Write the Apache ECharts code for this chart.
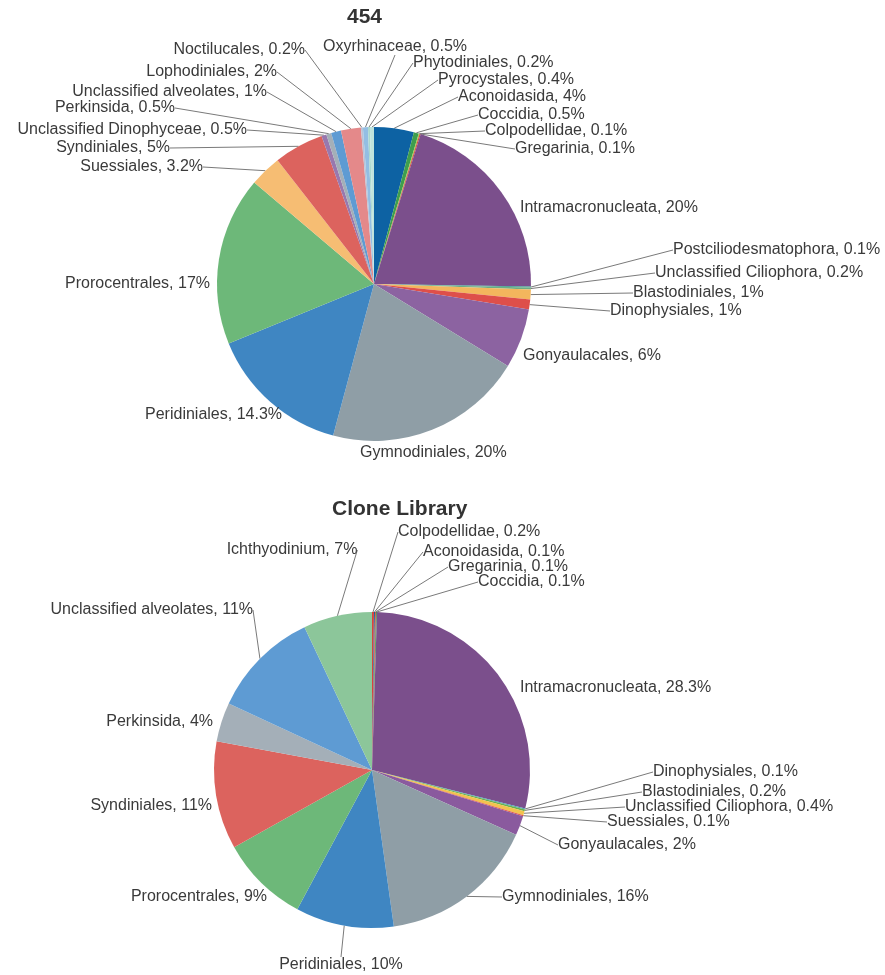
<!DOCTYPE html>
<html>
<head>
<meta charset="utf-8">
<script src="https://cdn.jsdelivr.net/npm/echarts@6/dist/echarts.min.js"></script>
<style>
html,body{margin:0;padding:0;background:#fff;}
#chart{width:885px;height:975px;}
</style>
</head>
<body>
<div id="chart"></div>
<script>
// ---- Data: 454 ----
const names454 = ['Aconoidasida','Coccidia','Colpodellidae','Gregarinia','Intramacronucleata','Postciliodesmatophora','Unclassified Ciliophora','Blastodiniales','Dinophysiales','Gonyaulacales','Gymnodiniales','Peridiniales','Prorocentrales','Suessiales','Syndiniales','Unclassified Dinophyceae','Perkinsida','Unclassified alveolates','Lophodiniales','Noctilucales','Oxyrhinaceae','Phytodiniales','Pyrocystales'];
const values454 = [4,0.5,0.1,0.1,20,0.1,0.2,1,1,6,20,14.3,17,3.2,5,0.5,0.5,1,2,0.2,0.5,0.2,0.4];

// ---- Data: Clone Library ----
const namesClone = ['Colpodellidae','Aconoidasida','Gregarinia','Coccidia','Intramacronucleata','Dinophysiales','Blastodiniales','Unclassified Ciliophora','Suessiales','Gonyaulacales','Gymnodiniales','Peridiniales','Prorocentrales','Syndiniales','Perkinsida','Unclassified alveolates','Ichthyodinium'];
const valuesClone = [0.2,0.1,0.1,0.1,28.3,0.1,0.2,0.4,0.1,2,16,10,9,11,4,11,7];

// ---- Styles (colours) ----
const colors454 = ['#0d62a3','#3f9e4d','#9cc84a','#d83b33','#7b4f8c','#3c9a90','#6cae84','#f3b65d','#de4f4a','#8c63a1','#8f9ea6','#3f86c2','#6db879','#f6bd73','#dc635e','#9878ae','#a4afb8','#5e9bd3','#e4898a','#b8c3d6','#93bee3','#a9d8ce','#bfe3dc'];
const colorsClone = ['#d9443c','#0d62a3','#e0504a','#3f9e4d','#7b4f8c','#4a9fb8','#6ab04c','#f2c24e','#e0504a','#8a5a9e','#8f9ea6','#3f86c2','#6db879','#dc635e','#a4afb8','#5e9bd3','#8cc69a'];

// ---- Layout of labels (pixel anchors, alignment) ----
const labelPos454 = [[458,97,'left'],[478,115,'left'],[485,131,'left'],[515,149,'left'],[520,208,'left'],[673,250,'left'],[655,273,'left'],[633,293,'left'],[610,311,'left'],[523,356,'left'],[360,453,'left'],[282,415,'right'],[210,284,'right'],[203,167,'right'],[170,148,'right'],[247,130,'right'],[175,108,'right'],[267,92,'right'],[277,72,'right'],[305,50,'right'],[395,47,'center'],[413,63,'left'],[438,80,'left']];
const noLine454 = ['Intramacronucleata','Gonyaulacales','Gymnodiniales','Peridiniales','Prorocentrales'];
const labelPosClone = [[398,532,'left'],[423,552,'left'],[448,567,'left'],[478,582,'left'],[520,688,'left'],[653,772,'left'],[642,792,'left'],[625,807,'left'],[607,822,'left'],[558,845,'left'],[502,897,'left'],[341,965,'center'],[267,897,'right'],[212,806,'right'],[213,722,'right'],[253,610,'right'],[292,550,'center']];
const noLineClone = ['Intramacronucleata','Prorocentrales','Syndiniales','Perkinsida'];

const FONT = '"Liberation Sans", Arial, Helvetica, sans-serif';

function buildData(names, values, colors, noLine) {
  return names.map((n, i) => ({
    name: n,
    value: values[i],
    itemStyle: { color: colors[i] },
    labelLine: { show: noLine.indexOf(n) < 0 }
  }));
}

function makeSeries(names, values, colors, noLine, positions, center, radius) {
  return {
    type: 'pie',
    center: center,
    radius: radius,
    left: 0, top: 0, right: 0, bottom: 0,
    startAngle: 90,
    clockwise: true,
    avoidLabelOverlap: false,
    silent: true,
    data: buildData(names, values, colors, noLine),
    itemStyle: { borderWidth: 0 },
    label: {
      show: true,
      position: 'outside',
      formatter: '{b}, {c}%',
      fontFamily: FONT,
      fontSize: 16,
      color: '#3a3a3a',
      overflow: 'none'
    },
    labelLine: {
      show: true,
      length: 10,
      length2: 0,
      smooth: false,
      lineStyle: { color: '#7a7a7a', width: 1 }
    },
    labelLayout: function (p) {
      const pos = positions[p.dataIndex];
      return { x: pos[0], y: pos[1], align: pos[2], verticalAlign: 'middle' };
    }
  };
}

const chart = echarts.init(document.getElementById('chart'), null, { renderer: 'canvas' });
chart.setOption({
  animation: false,
  backgroundColor: '#fff',
  title: [
    { text: '454', left: 342, top: 2, textStyle: { fontFamily: FONT, fontSize: 21, fontWeight: 'bold', color: '#333' } },
    { text: 'Clone Library', left: 327, top: 494, textStyle: { fontFamily: FONT, fontSize: 21, fontWeight: 'bold', color: '#333' } }
  ],
  series: [
    makeSeries(names454, values454, colors454, noLine454, labelPos454, [374, 284], 157),
    makeSeries(namesClone, valuesClone, colorsClone, noLineClone, labelPosClone, [372, 770], 158)
  ]
});
</script>
</body>
</html>
